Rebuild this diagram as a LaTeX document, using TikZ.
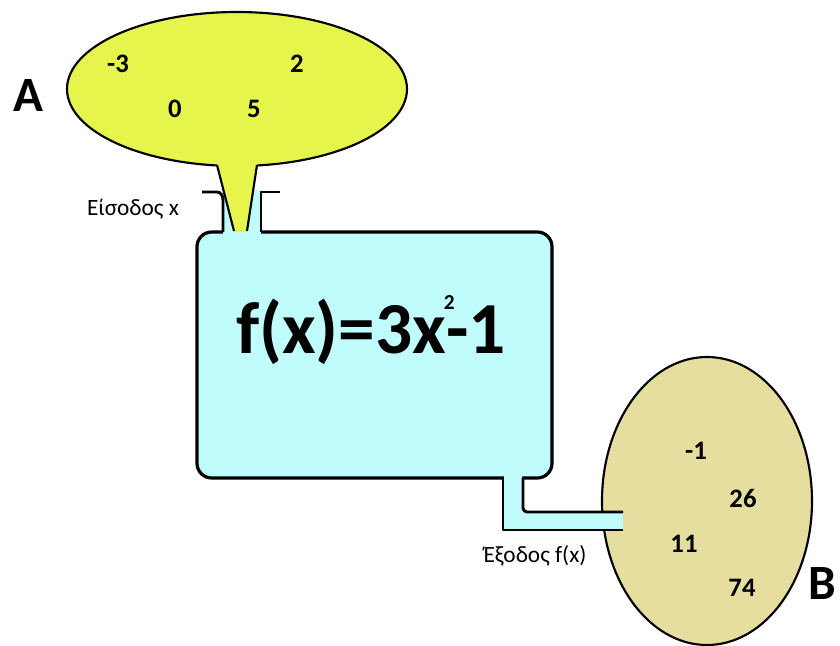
\documentclass[tikz,border=0pt]{standalone}
\usepackage{fontspec}
\setmainfont{Carlito}
\definecolor{ayel}{RGB}{230,245,75}
\definecolor{bkha}{RGB}{230,222,158}
\definecolor{boxc}{RGB}{192,252,252}
\begin{document}
\begin{tikzpicture}[x=0.75pt,y=-0.75pt,
  num/.style={font=\bfseries\fontsize{20}{24}\selectfont, inner sep=0pt},
  big/.style={font=\bfseries\fontsize{37}{44}\selectfont, inner sep=0pt},
  lab/.style={font=\fontsize{17.5}{21}\selectfont, inner sep=0pt},
  wall/.style={line width=2.2pt, line join=round}]
\useasboundingbox (0,0) rectangle (840,646);
% ellipse A
\draw[fill=ayel, line width=1.6pt] (237,89) ellipse [x radius=170, y radius=77];
% box
\draw[fill=boxc, line width=2.4pt, rounded corners=11] (197,232) rectangle (552,478);
% ellipse B
\draw[fill=bkha, line width=1.6pt] (707,501) ellipse [x radius=105, y radius=144];
% inlet tube
\fill[boxc] (223,190) rectangle (261,236);
\draw[wall] (202,192) -- (217,192) to[out=0,in=90] (223,200) -- (223,232);
\draw[wall] (280,192) -- (261,192) -- (261,232);
% funnel
\fill[ayel] (216,160) -- (258,160) -- (247,232) -- (234,232) -- cycle;
\draw[line width=1.6pt] (217,165) -- (234,231);
\draw[line width=1.6pt] (257,165) -- (247,231);
% outlet pipe
\fill[boxc] (504,474) rectangle (522,530) (504,513) rectangle (623,530);
\draw[wall] (503,478) -- (503,530) -- (623,530);
\draw[wall] (523,478) -- (523,508) to[out=-90,in=180] (527,512) -- (623,512);
% labels
\node[big] (la) at (28,96) {A};
\node[big] (lb) at (822,584) {B};
\node[num] (a1) at (118,64) {-3};
\node[num] (a2) at (297,64) {2};
\node[num] (a3) at (175,109) {0};
\node[num] (a4) at (254,109) {5};
\node[num] (b1) at (696,451) {-1};
\node[num] (b2) at (743,498) {26};
\node[num] (b3) at (684,544) {11};
\node[num] (b4) at (742,588) {74};
\node[lab] (in) at (133,209) {Είσοδος x};
\node[lab] (out) at (535,556) {Έξοδος f(x)};
\node[anchor=base, inner sep=0pt, font=\bfseries\fontsize{55}{60}\selectfont] (f) at (371,353)
  {f(x)=3x\rlap{\raisebox{0.6em}{\hspace{-0.03em}\fontsize{16}{18}\selectfont 2}}-1};
\end{tikzpicture}
\end{document}
